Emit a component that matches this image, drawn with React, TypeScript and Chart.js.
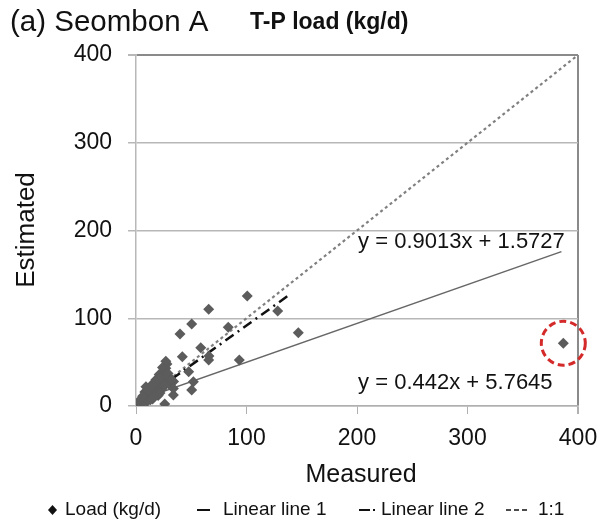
import React, { useEffect, useRef } from "react";
import { Chart, registerables } from "chart.js";

Chart.register(...registerables);

// Measured vs estimated T-P load (kg/d)
const loadMeasured: number[] = [
  0, 1, 2, 3, 4, 5, 6, 7, 8, 9, 10, 11, 12, 13, 14, 15, 16, 17, 18, 19, 20, 21, 22, 23, 24, 25, 26, 27, 28, 27,
  24, 21, 30, 20, 15, 10, 8, 12, 30, 34, 18, 22, 5, 9, 3, 6, 11, 14, 17, 19, 23, 26, 29, 32, 16, 13,
  100.7, 65.8, 50.4, 39.8, 83.5, 128.2, 146.9, 58.6, 66, 65.8, 41.9, 93.5, 47.7, 51.9, 33.8, 26, 21.7, 33.8, 50.4,
  386.7,
];
const loadEstimated: number[] = [
  0, 2, 1, 4, 3, 7, 5, 9, 8, 12, 10, 15, 13, 18, 15, 21, 18, 24, 20, 27, 23, 30, 26, 34, 29, 38, 34, 43, 48, 51,
  44, 36, 33, 12, 8, 5, 16, 20, 25, 28, 30, 32, 2, 22, 6, 11, 18, 24, 27, 14, 19, 23, 37, 30, 10, 7,
  125.4, 110.2, 93.4, 82, 89.7, 108.3, 83.5, 66.4, 57, 52.4, 56.2, 52.4, 39, 27.7, 12.5, 2.3, 14.8, 20, 18.2,
  71.5,
];
const line1X: number[] = [0, 385];
const line1Y: number[] = [5.76, 175.9];
const line2X: number[] = [0, 138];
const line2Y: number[] = [1.57, 126];
const oneToOneX: number[] = [0, 400];
const oneToOneY: number[] = [0, 400];
const xTicks: number[] = [0, 100, 200, 300, 400];
const yTicks: number[] = [0, 100, 200, 300, 400];
const circledPoint: number[] = [386.7, 71.5];
const eq1Text = "y = 0.9013x + 1.5727";
const eq2Text = "y = 0.442x + 5.7645";
const eq1Pos: number[] = [201, 187];
const eq2Pos: number[] = [201, 26];

const FONT = "'Liberation Sans', Arial, sans-serif";

const overlayPlugin = {
  id: "overlay",
  afterDraw(chart: any) {
    const ctx = chart.ctx as CanvasRenderingContext2D;
    const xs = chart.scales.x;
    const ys = chart.scales.y;
    ctx.save();
    ctx.fillStyle = "#111";
    ctx.textBaseline = "alphabetic";
    ctx.textAlign = "left";
    // titles
    ctx.font = `29.5px ${FONT}`;
    ctx.fillText("(a) Seombon A", 10, 31);
    ctx.font = `bold 23px ${FONT}`;
    ctx.fillText("T-P load (kg/d)", 250, 29);
    // axis titles
    ctx.font = `25px ${FONT}`;
    ctx.textAlign = "center";
    ctx.fillText("Measured", 361, 482);
    ctx.font = `26px ${FONT}`;
    ctx.save();
    ctx.translate(34, 230);
    ctx.rotate(-Math.PI / 2);
    ctx.fillText("Estimated", 0, 0);
    ctx.restore();
    // equations
    ctx.font = `22px ${FONT}`;
    ctx.textAlign = "left";
    ctx.textBaseline = "middle";
    ctx.fillText(eq1Text, xs.getPixelForValue(eq1Pos[0]), ys.getPixelForValue(eq1Pos[1]));
    ctx.fillText(eq2Text, xs.getPixelForValue(eq2Pos[0]), ys.getPixelForValue(eq2Pos[1]));
    // red dashed circle
    ctx.beginPath();
    ctx.setLineDash([7, 4]);
    ctx.lineWidth = 3;
    ctx.strokeStyle = "#d42a2a";
    ctx.arc(xs.getPixelForValue(circledPoint[0]), ys.getPixelForValue(circledPoint[1]), 22, 0, Math.PI * 2);
    ctx.stroke();
    ctx.setLineDash([]);
    // legend
    const ly = 510;
    ctx.font = `19px ${FONT}`;
    ctx.fillStyle = "#111";
    ctx.beginPath();
    ctx.moveTo(52.5, ly - 5);
    ctx.lineTo(57, ly);
    ctx.lineTo(52.5, ly + 5);
    ctx.lineTo(48, ly);
    ctx.closePath();
    ctx.fill();
    ctx.fillText("Load (kg/d)", 65, ly);
    ctx.strokeStyle = "#111";
    ctx.lineWidth = 2;
    ctx.beginPath();
    ctx.moveTo(197, ly);
    ctx.lineTo(210, ly);
    ctx.stroke();
    ctx.fillText("Linear line 1", 223, ly);
    ctx.beginPath();
    ctx.moveTo(359, ly);
    ctx.lineTo(370, ly);
    ctx.moveTo(373, ly);
    ctx.lineTo(375, ly);
    ctx.stroke();
    ctx.fillText("Linear line 2", 381, ly);
    ctx.lineWidth = 1.5;
    ctx.beginPath();
    for (let i = 0; i < 3; i++) {
      ctx.moveTo(506 + i * 8, ly);
      ctx.lineTo(511 + i * 8, ly);
    }
    ctx.stroke();
    ctx.fillText("1:1", 538, ly);
    ctx.restore();
  },
};

export default function App() {
  const ref = useRef<HTMLCanvasElement | null>(null);
  useEffect(() => {
    if (!ref.current) return;
    const pts = loadMeasured.map((x, i) => ({ x, y: loadEstimated[i] }));
    const toPts = (xa: number[], ya: number[]) => xa.map((x, i) => ({ x, y: ya[i] }));
    const chart = new Chart(ref.current, {
      type: "scatter",
      data: {
        datasets: [
          {
            label: "Load (kg/d)",
            data: pts,
            pointStyle: "rectRot",
            pointRadius: 5.5,
            backgroundColor: "#5c5c5c",
            borderColor: "#5c5c5c",
            borderWidth: 0,
            order: 0,
          },
          {
            label: "Linear line 1",
            data: toPts(line1X, line1Y),
            showLine: true,
            pointRadius: 0,
            borderColor: "#666",
            borderWidth: 1.5,
            order: 2,
          },
          {
            label: "Linear line 2",
            data: toPts(line2X, line2Y),
            showLine: true,
            pointRadius: 0,
            borderColor: "#111",
            borderWidth: 2.5,
            borderDash: [10, 5, 2, 5],
            order: 1,
          },
          {
            label: "1:1",
            data: toPts(oneToOneX, oneToOneY),
            showLine: true,
            pointRadius: 0,
            borderColor: "#808080",
            borderWidth: 2.2,
            borderDash: [3, 3],
            order: 3,
          },
        ],
      },
      options: {
        responsive: false,
        animation: false,
        devicePixelRatio: 1,
        layout: { padding: { top: 55, right: 33, left: 0, bottom: 0 } },
        plugins: { legend: { display: false }, tooltip: { enabled: false }, title: { display: false } },
        scales: {
          x: {
            type: "linear",
            min: 0,
            max: 400,
            afterBuildTicks: (s: any) => {
              s.ticks = xTicks.map((v) => ({ value: v }));
            },
            afterFit: (s: any) => {
              s.height = 122;
            },
            ticks: {
              font: { family: FONT, size: 23 },
              color: "#111",
              padding: 11,
              maxRotation: 0,
            },
            grid: {
              drawOnChartArea: true,
              color: (c: any) => (c.tick && c.tick.value === 400 ? "#8a8a8a" : "rgba(0,0,0,0)"),
              lineWidth: (c: any) => (c.tick && c.tick.value === 400 ? 2 : 1),
              tickColor: "#b0b0b0",
              tickLength: 8,
            },
            border: { color: "#b0b0b0", width: 1.5 },
          },
          y: {
            type: "linear",
            min: 0,
            max: 400,
            afterBuildTicks: (s: any) => {
              s.ticks = yTicks.map((v) => ({ value: v }));
            },
            afterFit: (s: any) => {
              s.width = 136;
            },
            ticks: {
              font: { family: FONT, size: 23 },
              color: "#111",
              padding: 16,
            },
            grid: {
              color: (c: any) => (c.tick && c.tick.value === 400 ? "#8a8a8a" : "#b8b8b8"),
              lineWidth: (c: any) => (c.tick && c.tick.value === 400 ? 2 : 1.5),
              tickColor: "#b8b8b8",
              tickLength: 8,
            },
            border: { color: "#b8b8b8", width: 1.5 },
          },
        },
      },
      plugins: [overlayPlugin],
    });
    return () => chart.destroy();
  }, []);
  return (
    <div style={{ position: "fixed", left: 0, top: 0, width: 611, height: 528, background: "#fff" }}>
      <canvas ref={ref} width={611} height={528} style={{ width: 611, height: 528, display: "block" }} />
    </div>
  );
}
